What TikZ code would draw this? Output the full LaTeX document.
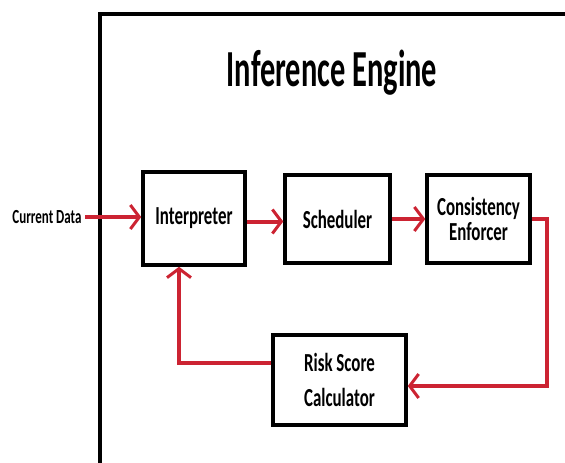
\documentclass[tikz,border=0pt]{standalone}
\usepackage{fontspec}
\usetikzlibrary{arrows.meta}
\newfontfamily\enginefont[FakeStretch=0.65]{Carlito}
\newfontfamily\titlefont[FakeStretch=0.585]{Carlito}
\definecolor{flowred}{RGB}{204,35,50}

\tikzset{
    block/.style={draw, line width=3.5pt, fill=white, align=center,
        font=\enginefont\bfseries\fontsize{26}{33}\selectfont},
    flow/.style={draw=flowred, line width=4pt,
        -{Straight Barb[length=9pt, width=24pt, line width=3pt]}},
}

\begin{document}
\begin{tikzpicture}[x=1pt, y=-1pt]
    \useasboundingbox (0, 0) rectangle (565, 463);

    \draw[line width=3.5pt] (100, 463) -- (100, 14) -- (565, 14);

    \node (title) at (332, 73) {\titlefont\bfseries\fontsize{52}{56}\selectfont Inference Engine};

    \node (cdata) at (47, 217) {\enginefont\bfseries\fontsize{20}{24}\selectfont Current Data};

    \node[block, minimum width=102pt, minimum height=93pt] (interp) at (194, 218.5) {Interpreter};
    \node[block, minimum width=105pt, minimum height=88pt] (sched) at (337.5, 219) {Scheduler};
    \node[block, minimum width=103pt, minimum height=88pt, font=\enginefont\bfseries\fontsize{26}{25}\selectfont] (cons) at (478.5, 219) {Consistency\\Enforcer};
    \node[block, minimum width=133pt, minimum height=90pt, font=\enginefont\bfseries\fontsize{26}{35}\selectfont] (risk) at (339.5, 380) {Risk Score\\Calculator};

    \draw[flow] (cdata.east) -- (cdata -| interp.west);
    \draw[flow] ([yshift=-3pt]interp.east) -- ([yshift=-3pt]interp.east -| sched.west);
    \draw[flow] (sched.east) -- (cons.west);
    \draw[flow] (cons.east) -- ++(15, 0) |- ([yshift=-6pt]risk.east);
    \draw[flow] ([yshift=17pt]risk.west) -| ([xshift=-15pt]interp.south);

\end{tikzpicture}
\end{document}
